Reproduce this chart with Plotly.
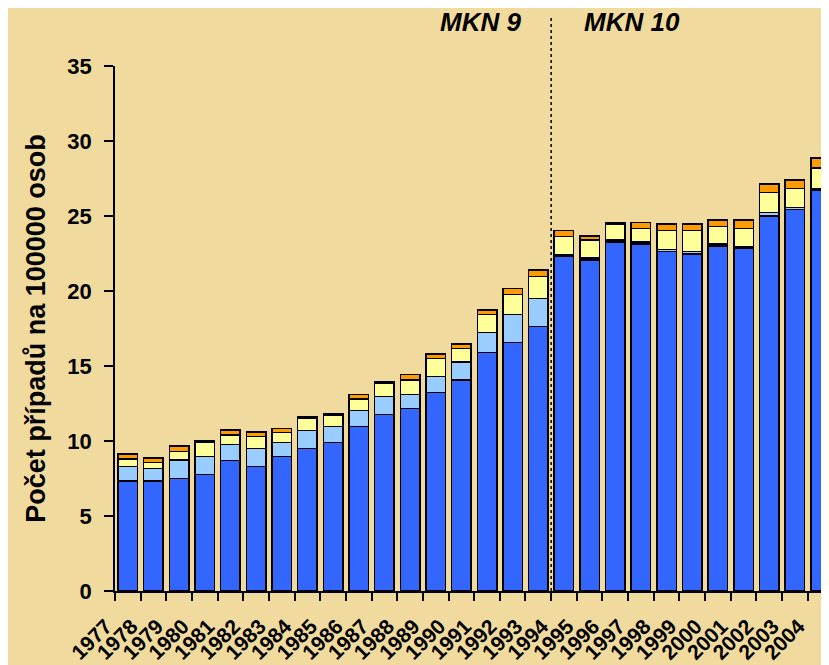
import plotly.graph_objects as go

years = [str(y) for y in range(1977, 2005)]

# stacked segment heights (cases per 100000)
blue = [7.35, 7.35, 7.51, 7.78, 8.69, 8.29, 8.96, 9.49, 9.89, 10.96,
        11.76, 12.16, 13.24, 14.07, 15.89, 16.56, 17.62, 22.33, 22.07, 23.27,
        23.13, 22.64, 22.47, 23.00, 22.82, 25.00, 25.44, 26.73]
light_blue = [0.94, 0.81, 1.22, 1.18, 1.09, 1.20, 0.93, 1.20, 1.07, 1.06,
              1.20, 0.93, 1.05, 1.20, 1.33, 1.86, 1.87, 0.10, 0.12, 0.12,
              0.15, 0.12, 0.15, 0.12, 0.10, 0.22, 0.12, 0.12]
yellow = [0.51, 0.40, 0.58, 0.93, 0.62, 0.80, 0.67, 0.80, 0.75, 0.78,
          0.88, 0.98, 1.20, 0.89, 1.22, 1.34, 1.47, 1.19, 1.21, 1.03,
          0.88, 1.26, 1.40, 1.17, 1.24, 1.34, 1.26, 1.35]
orange = [0.33, 0.31, 0.36, 0.10, 0.33, 0.31, 0.28, 0.10, 0.10, 0.31,
          0.10, 0.35, 0.31, 0.31, 0.29, 0.42, 0.44, 0.40, 0.27, 0.10,
          0.40, 0.45, 0.45, 0.44, 0.57, 0.57, 0.58, 0.67]

series = [
    ("blue", blue, "#3366FF"),
    ("light blue", light_blue, "#99CCFF"),
    ("yellow", yellow, "#FFFF99"),
    ("orange", orange, "#FF9900"),
]

y_ticks = [0, 5, 10, 15, 20, 25, 30, 35]

BG = "#F0DA9E"
FONT = "Liberation Sans, Arial, sans-serif"

fig = go.Figure()
for name, vals, col in series:
    fig.add_trace(go.Bar(
        x=years, y=vals, name=name,
        marker=dict(color=col, line=dict(color="black", width=1.5)),
    ))

fig.update_layout(
    barmode="stack",
    bargap=0.24,
    width=821, height=657,
    margin=dict(l=107, r=0, t=58, b=74, autoexpand=False),
    paper_bgcolor=BG, plot_bgcolor=BG,
    showlegend=False,
    font=dict(family=FONT, color="black"),
)

fig.update_xaxes(
    type="category",
    range=[-0.5, 27.33],
    tickmode="array", tickvals=years, ticktext=years,
    tickson="boundaries",
    ticks="outside", ticklen=8, tickwidth=1.5, tickcolor="black",
    showline=True, linecolor="black", linewidth=1.5,
    showgrid=False,
    tickangle=-45,
    tickfont=dict(family=FONT, size=21, weight="bold", color="black"),
    ticklabelshift=-22,
    ticklabelstandoff=13,
    automargin=False,
)
fig.update_yaxes(
    range=[0, 35],
    tickvals=y_ticks,
    ticks="outside", ticklen=9, tickwidth=1.5, tickcolor="black",
    showline=True, linecolor="black", linewidth=1.5,
    showgrid=False, zeroline=False,
    tickfont=dict(family=FONT, size=22, weight="bold", color="black"),
    ticklabelstandoff=8,
    title=dict(text="Počet případů na 100000 osob",
               font=dict(family=FONT, size=27, weight="bold", color="black"),
               standoff=14),
    automargin=False,
)

# MKN 9 / MKN 10 divider between 1993 and 1994
fig.add_shape(type="line", xref="x", yref="paper",
              x0=16.5, x1=16.5, y0=0, y1=1.097,
              line=dict(color="black", width=1.5, dash="dot"))

fig.add_annotation(text="<b><i>MKN 9</i></b>", xref="paper", yref="paper",
                   x=0.5126, y=1.084, xanchor="center", yanchor="middle",
                   showarrow=False,
                   font=dict(family=FONT, size=26, color="black"))
fig.add_annotation(text="<b><i>MKN 10</i></b>", xref="paper", yref="paper",
                   x=0.724, y=1.084, xanchor="center", yanchor="middle",
                   showarrow=False,
                   font=dict(family=FONT, size=26, color="black"))

fig.write_html("out.html")
